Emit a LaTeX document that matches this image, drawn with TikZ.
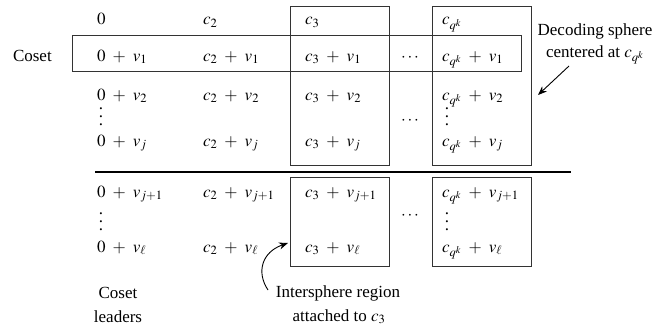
\documentclass[tikz,border=0pt]{standalone}
\usepackage{mathptmx}
\usepackage[no-math]{fontspec}
\setmainfont{Liberation Serif}
\usetikzlibrary{arrows.meta}
\newcommand\threedots{\vbox{\baselineskip=8.2pt\hbox{.}\hbox{.}\hbox{.}}}
\newcommand\diagfont{\fontsize{17}{21}\selectfont\medmuskip=7.5mu\relax}
\begin{document}
\begin{tikzpicture}[x=1pt,y=-1pt,
  every node/.style={inner sep=0pt,outer sep=0pt,font=\diagfont},
  cell/.style={anchor=base west},
  lbl/.style={anchor=base},
  vd/.style={anchor=south},
  boxline/.style={draw=black!80,line width=1pt},
  sep/.style={draw=black,line width=2pt},
  arr/.style={-{Stealth[length=9pt,width=7pt]},line width=0.9pt}]
\useasboundingbox (0,0) rectangle (655,329);
% boxes
\draw[boxline] (290,7) rectangle (389,165);
\draw[boxline] (432,7) rectangle (531,165);
\draw[boxline] (72,36) rectangle (521,71);
\draw[boxline] (290,177) rectangle (389,266);
\draw[boxline] (432,177) rectangle (531,266);
\draw[sep] (95,172) -- (571,172);
% row 1
\node[cell] (a1) at (97,25) {$0$};
\node[cell] (b1) at (203,25) {$c_2$};
\node[cell] (c1) at (305,25) {$c_3$};
\node[cell] (d1) at (442,25) {$c_{q^k}$};
% row 2
\node[anchor=base west] (coset) at (13,61) {Coset};
\node[cell] (a2) at (97,61) {$0 + v_1$};
\node[cell] (b2) at (203,61) {$c_2 + v_1$};
\node[cell] (c2) at (305,61) {$c_3 + v_1$};
\node[anchor=base] (e2) at (410,61) {$\cdots$};
\node[cell] (d2) at (442,61) {$c_{q^k} + v_1$};
% row 3
\node[cell] (a3) at (97,100) {$0 + v_2$};
\node[cell] (b3) at (203,100) {$c_2 + v_2$};
\node[cell] (c3) at (305,100) {$c_3 + v_2$};
\node[cell] (d3) at (442,100) {$c_{q^k} + v_2$};
% dots
\node[vd] (av) at (101,126) {\threedots};
\node[anchor=base] (e3) at (410,124) {$\cdots$};
\node[vd] (dv) at (447,126) {\threedots};
% row 4
\node[cell] (a4) at (97,146) {$0 + v_j$};
\node[cell] (b4) at (203,146) {$c_2 + v_j$};
\node[cell] (c4) at (305,146) {$c_3 + v_j$};
\node[cell] (d4) at (442,146) {$c_{q^k} + v_j$};
% lower rows
\node[cell] (a5) at (97,197) {$0 + v_{j+1}$};
\node[cell] (b5) at (203,197) {$c_2 + v_{j+1}$};
\node[cell] (c5) at (305,197) {$c_3 + v_{j+1}$};
\node[cell] (d5) at (442,197) {$c_{q^k} + v_{j+1}$};
\node[vd] (av2) at (101,231) {\threedots};
\node[anchor=base] (e5) at (410,219) {$\cdots$};
\node[vd] (dv2) at (447,231) {\threedots};
\node[cell] (a6) at (97,252) {$0 + v_\ell$};
\node[cell] (b6) at (203,252) {$c_2 + v_\ell$};
\node[cell] (c6) at (305,252) {$c_3 + v_\ell$};
\node[cell] (d6) at (442,252) {$c_{q^k} + v_\ell$};
% labels
\node[lbl] (leaders1) at (118,298) {Coset};
\node[lbl] (leaders2) at (118,322) {leaders};
\node[lbl] (inter1) at (338,297) {Intersphere region};
\node[lbl] (inter2) at (339,321) {attached to $c_3$};
\node[lbl] (dec1) at (595,36) {Decoding sphere};
\node[lbl] (dec2) at (595,57) {centered at $c_{q^k}$};
% arrows
\coordinate (decfrom) at (569,66);
\coordinate (decto) at (538,95);
\draw[arr] (decfrom) -- (decto);
\coordinate (intfrom) at (268,290);
\coordinate (intto) at (288,243);
\draw[arr] (intfrom) .. controls (256,272) and (262,252) .. (intto);
\end{tikzpicture}
\end{document}
